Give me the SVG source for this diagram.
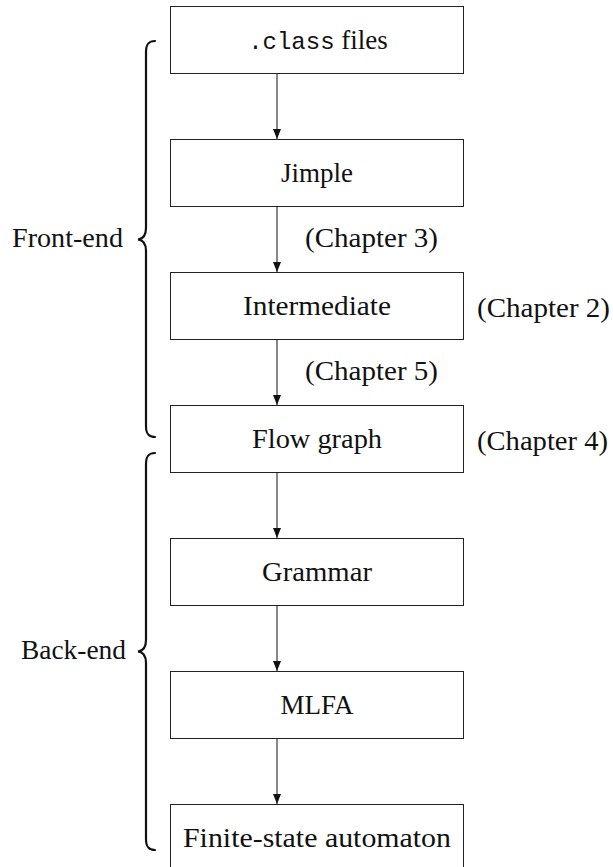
<svg xmlns="http://www.w3.org/2000/svg" width="613" height="867" viewBox="0 0 613 867">
  <style>
    .box rect { fill: #fff; stroke: #222; stroke-width: 1; }
    text { font-family: "Liberation Serif", "DejaVu Serif", "Times New Roman", serif; font-size: 27px; fill: #111; }
    .mid { text-anchor: middle; }
    tspan.mono { font-family: "Liberation Mono", "DejaVu Sans Mono", "Courier New", monospace; font-size: 24px; }
    .edge { stroke: #111; stroke-width: 1; fill: none; marker-end: url(#arrow); }
    .brace { stroke: #111; stroke-width: 2.2; fill: none; stroke-linecap: round; }
  </style>
  <defs>
    <marker id="arrow" markerUnits="userSpaceOnUse" markerWidth="10" markerHeight="12" refX="10" refY="4" orient="auto">
      <path d="M0,0 L10,4 L0,8 Z" fill="#111"/>
    </marker>
  </defs>
  <rect width="613" height="867" fill="#fff"/>

  <!-- pipeline stages -->
  <g id="class-files" class="box">
    <rect x="170.5" y="6.5" width="293" height="67"/>
    <text class="mid" x="318" y="49"><tspan class="mono">.class</tspan> files</text>
  </g>
  <g id="jimple" class="box">
    <rect x="170.5" y="139.5" width="293" height="67"/>
    <text class="mid" x="317" y="182">Jimple</text>
  </g>
  <g id="intermediate" class="box">
    <rect x="170.5" y="272.5" width="293" height="67"/>
    <text class="mid" x="317" y="315" textLength="148" lengthAdjust="spacingAndGlyphs">Intermediate</text>
  </g>
  <g id="flow-graph" class="box">
    <rect x="170.5" y="405.5" width="293" height="67"/>
    <text class="mid" x="317" y="448" textLength="130" lengthAdjust="spacingAndGlyphs">Flow graph</text>
  </g>
  <g id="grammar" class="box">
    <rect x="170.5" y="538.5" width="293" height="67"/>
    <text class="mid" x="317" y="581" textLength="110" lengthAdjust="spacingAndGlyphs">Grammar</text>
  </g>
  <g id="mlfa" class="box">
    <rect x="170.5" y="671.5" width="293" height="67"/>
    <text class="mid" x="317" y="714" textLength="73" lengthAdjust="spacingAndGlyphs">MLFA</text>
  </g>
  <g id="fsa" class="box">
    <rect x="170.5" y="804.5" width="293" height="67"/>
    <text class="mid" x="317" y="847" textLength="268" lengthAdjust="spacingAndGlyphs">Finite-state automaton</text>
  </g>

  <!-- connectors -->
  <g id="connectors">
    <line class="edge" x1="277" y1="73.5" x2="277" y2="139"/>
    <line class="edge" x1="277" y1="206.5" x2="277" y2="272"/>
    <line class="edge" x1="277" y1="339.5" x2="277" y2="405"/>
    <line class="edge" x1="277" y1="472.5" x2="277" y2="538"/>
    <line class="edge" x1="277" y1="605.5" x2="277" y2="671"/>
    <line class="edge" x1="277" y1="738.5" x2="277" y2="804"/>
  </g>

  <!-- chapter notes -->
  <g id="notes">
    <text x="305" y="247" textLength="133" lengthAdjust="spacingAndGlyphs">(Chapter 3)</text>
    <text x="305" y="380" textLength="133" lengthAdjust="spacingAndGlyphs">(Chapter 5)</text>
    <text x="477" y="317" textLength="133" lengthAdjust="spacingAndGlyphs">(Chapter 2)</text>
    <text x="477" y="450" textLength="131" lengthAdjust="spacingAndGlyphs">(Chapter 4)</text>
  </g>

  <!-- phase braces -->
  <g id="front-end">
    <path class="brace" d="M155,41 C148.5,41 146,44 146,52 L146,228 C146,235 143,239 138,239.5 C143,240 146,244 146,251 L146,426 C146,434 148.5,437 155,437"/>
    <text x="12" y="247" textLength="111" lengthAdjust="spacingAndGlyphs">Front-end</text>
  </g>
  <g id="back-end">
    <path class="brace" d="M155,453 C148.5,453 146,456 146,464 L146,640 C146,647 143,651 138,651.5 C143,652 146,656 146,663 L146,839 C146,847 148.5,850 155,850"/>
    <text x="21" y="659" textLength="105" lengthAdjust="spacingAndGlyphs">Back-end</text>
  </g>
</svg>
